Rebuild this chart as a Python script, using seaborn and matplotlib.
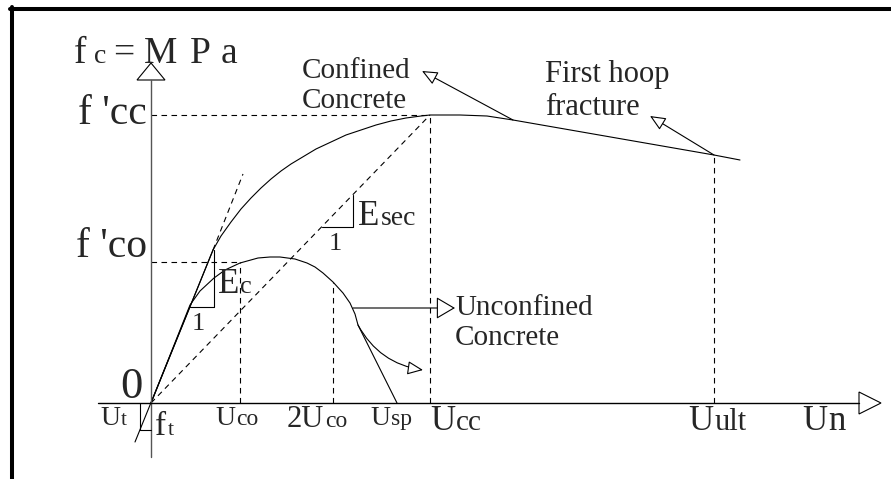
import matplotlib
matplotlib.use('Agg')

import numpy as np
import pandas as pd
import seaborn as sns
import matplotlib.pyplot as plt
from matplotlib.patches import Polygon
from matplotlib.lines import Line2D

sns.set_style("white")
plt.rcParams['font.family'] = ['Liberation Serif', 'DejaVu Serif']

# schematic units (1 unit ~ 1 px), origin at the stress-strain origin
# confined concrete curve
conf_strain = [0, 62, 70, 80, 90, 100, 110, 120, 130, 140, 150, 165, 180, 195, 210,
               225, 240, 255, 270, 279, 309, 336, 362, 563, 589]
conf_stress = [0, 153, 167, 181, 194, 205, 215, 224, 232, 239, 245, 254, 261, 268, 273,
               278, 282, 285, 287, 288, 288, 287, 283, 248, 243]

# unconfined concrete curve (ends with the spalling branch down to Usp)
unconf_strain = [0, 39, 49, 63, 74, 89, 107, 119, 129, 144, 156, 164, 172, 182, 192,
                 199, 204, 207, 246]
unconf_stress = [0, 98, 112, 125, 133, 140, 145, 146, 146, 144, 140, 136, 130, 121, 110,
                 100, 89, 78, 0]

# characteristic points
f_cc, u_cc = 288, 279
f_co, u_co = 141, 89
u_2co, f_2co = 182, 121
u_sp = 246
u_ult, f_ult = 563, 248

# tangent (Ec) line: solid part and dashed continuation
ec_strain = [-16, 62]
ec_stress = [-39, 153]
ec_dash_strain = [62, 92]
ec_dash_stress = [153, 229]

# secant (Esec) line
sec_strain = [0, u_cc]
sec_stress = [0, f_cc]

# figure: the axes fills the canvas, 1 data unit = 1 pixel
fig = plt.figure(figsize=(8.91, 4.79), dpi=100)
ax = fig.add_axes([0, 0, 1, 1])
ax.set_xlim(-151, 740)
ax.set_ylim(-76, 403)
ax.axis('off')

lw = 0.8
dash = (0, (5, 4))

# curves
curves = pd.DataFrame({'strain': conf_strain, 'stress': conf_stress})
sns.lineplot(data=curves, x='strain', y='stress', sort=False, color='black', lw=lw, ax=ax)
curves_u = pd.DataFrame({'strain': unconf_strain, 'stress': unconf_stress})
sns.lineplot(data=curves_u, x='strain', y='stress', sort=False, color='black', lw=lw, ax=ax)

# Ec tangent and secant
ax.plot(ec_strain, ec_stress, color='black', lw=lw)
ax.plot(ec_dash_strain, ec_dash_stress, color='black', lw=lw, ls=dash)
ax.plot(sec_strain, sec_stress, color='black', lw=lw, ls=dash)

# dashed guide lines
ax.plot([0, u_cc], [f_cc, f_cc], color='black', lw=lw, ls=dash)
ax.plot([u_cc, u_cc], [0, f_cc], color='black', lw=lw, ls=dash)
ax.plot([0, u_co], [f_co, f_co], color='black', lw=lw, ls=dash)
ax.plot([u_co, u_co], [0, f_co], color='black', lw=lw, ls=dash)
ax.plot([u_2co, u_2co], [0, f_2co], color='black', lw=lw, ls=dash)
ax.plot([u_ult, u_ult], [0, f_ult], color='black', lw=lw, ls=dash)

# axes with open arrow heads
ax.plot([0, 0], [-54, 323], color='#555555', lw=1.0)
ax.plot([-53, 708], [0, 0], color='black', lw=1.0)
ax.add_patch(Polygon([(-14, 323), (14, 323), (0, 340)], closed=True,
                     fc='white', ec='black', lw=lw))
ax.add_patch(Polygon([(708, -11), (708, 11), (730, 0)], closed=True,
                     fc='white', ec='black', lw=lw))

# slope triangles
ax.plot([39, 63, 63], [96, 96, 153], color='black', lw=lw)
ax.plot([171, 202, 202], [176, 176, 208], color='black', lw=lw)

# tensile strength marker
ax.plot([-11, -11, 0], [0, -27, -27], color='black', lw=lw)

# annotation arrows
head = dict(arrowstyle='-|>,head_length=0.8,head_width=0.35', fc='white', ec='black',
            lw=lw, mutation_scale=12, shrinkA=0, shrinkB=0)
ax.annotate('', xy=(271, 332), xytext=(362, 283), arrowprops=head)
ax.annotate('', xy=(499, 287), xytext=(563, 248), arrowprops=head)
ax.annotate('', xy=(272, 33), xytext=(207, 78),
            arrowprops=dict(head, connectionstyle='arc3,rad=0.25'))
ax.annotate('', xy=(304, 95), xytext=(202, 95),
            arrowprops=dict(head, arrowstyle='-|>,head_length=0.85,head_width=0.5',
                            mutation_scale=14, ec='black'))

# title of the stress axis, glyph by glyph to keep the wide spacing
ax.text(-71, 340, 'f', size=27, ha='center', va='baseline')
ax.text(-51, 340, 'c', size=20, ha='center', va='baseline')
ax.text(-27, 340, '=', size=27, ha='center', va='baseline')
ax.text(10, 340, 'M', size=27, ha='center', va='baseline')
ax.text(49, 340, 'P', size=27, ha='center', va='baseline')
ax.text(78, 340, 'a', size=27, ha='center', va='baseline')

# stress levels
ax.text(-4, 279, "f 'cc", size=30, ha='right', va='baseline')
ax.text(-4, 146, "f 'co", size=30, ha='right', va='baseline')
ax.text(-8, 5, '0', size=32, ha='right', va='baseline')

# strain labels (main letter + smaller suffix)
def label(x, y, main, sub, size, sub_size, gap=1):
    t = ax.text(x, y, main, size=size, ha='left', va='baseline')
    fig.canvas.draw()
    bb = t.get_window_extent()
    x2 = ax.transData.inverted().transform((bb.x1, bb.y0))[0]
    ax.text(x2 + gap, y, sub, size=sub_size, ha='left', va='baseline')

label(-51, -22, 'U', 't', 20, 15)
label(4, -32, 'f', 't', 24, 16, gap=2)
label(64, -22, 'U', 'co', 20, 17)
label(136, -24, '2U', 'co', 22, 17)
label(219, -22, 'U', 'sp', 20, 17)
label(279, -27, 'U', 'cc', 25, 21)
label(537, -27, 'U', 'ult', 25, 22)
label(651, -27, 'U', 'n', 25, 25)
label(67, 110, 'E', 'c', 25, 19)
label(207, 178, 'E', 'sec', 25, 20)
ax.text(47, 73, '1', size=19, ha='center', va='baseline')
ax.text(184, 153, '1', size=19, ha='center', va='baseline')

# curve descriptions
ax.text(151, 325, 'Confined', size=21, ha='left', va='baseline')
ax.text(151, 295, 'Concrete', size=21, ha='left', va='baseline')
ax.text(394, 321, 'First hoop', size=22, ha='left', va='baseline')
ax.text(394, 288, 'fracture', size=22, ha='left', va='baseline')
ax.text(304, 88, 'Unconfined', size=21, ha='left', va='baseline')
ax.text(304, 58, 'Concrete', size=21, ha='left', va='baseline')

# thick frame on top and left
fig.add_artist(Line2D([10 / 891, 1], [1 - 9 / 479, 1 - 9 / 479], color='black', lw=2.9))
fig.add_artist(Line2D([12 / 891, 12 / 891], [0, 1 - 7 / 479], color='black', lw=2.9))

fig.savefig('out.png', dpi=100)
